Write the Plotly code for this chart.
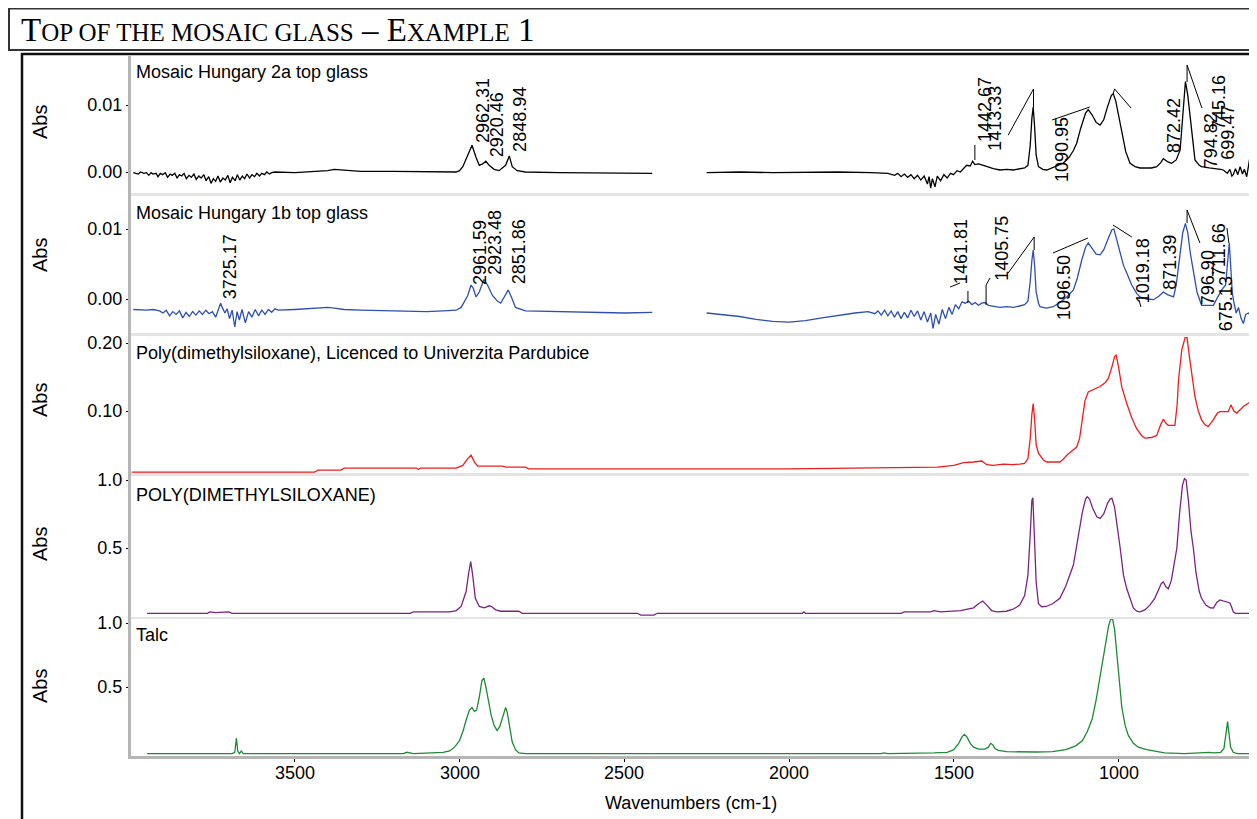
import plotly.graph_objects as go

# the page body adds an 8px margin, so the figure is drawn 8px smaller and all
# reference pixel positions are shifted by that offset
OFF = 8
W, H = 1257 - OFF, 819 - OFF
SANS = "Liberation Sans, Arial, sans-serif"
SERIF = "Liberation Serif, Times New Roman, serif"

# ----------------------------- data -----------------------------
x_range = [4000, 598]
x_ticks = [3500, 3000, 2500, 2000, 1500, 1000]

panel_titles = [
    "Mosaic Hungary 2a top glass",
    "Mosaic Hungary 1b top glass",
    "Poly(dimethylsiloxane), Licenced to Univerzita Pardubice",
    "POLY(DIMETHYLSILOXANE)",
    "Talc",
]

y_tickvals = [[0.0, 0.01], [0.0, 0.01], [0.10, 0.20], [0.5, 1.0], [0.5, 1.0]]
y_ticktext = [["0.00", "0.01"], ["0.00", "0.01"], ["0.10", "0.20"], ["0.5", "1.0"], ["0.5", "1.0"]]

# (wavenumber, absorbance); None marks the removed CO2 region
black_spectrum = [
    (3990, -0.0001), (3975, -0.0003), (3968, 0.0000), (3958, -0.0002), (3950, -0.0001), (3943, -0.0005),
    (3936, -0.0001), (3930, -0.0003), (3921, -0.0002), (3915, -0.0007), (3908, -0.0002), (3901, -0.0004),
    (3893, -0.0001), (3886, -0.0008), (3878, -0.0003), (3872, -0.0005), (3864, -0.0002), (3857, -0.0009),
    (3850, -0.0004), (3843, -0.0006), (3836, -0.0002), (3829, -0.0010), (3821, -0.0005), (3814, -0.0008),
    (3806, -0.0003), (3799, -0.0011), (3791, -0.0006), (3784, -0.0009), (3776, -0.0004), (3769, -0.0013),
    (3761, -0.0007), (3754, -0.0017), (3747, -0.0010), (3740, -0.0014), (3733, -0.0006), (3726, -0.0015),
    (3718, -0.0009), (3711, -0.0012), (3703, -0.0005), (3696, -0.0016), (3689, -0.0008), (3681, -0.0013),
    (3674, -0.0004), (3667, -0.0012), (3659, -0.0006), (3652, -0.0010), (3645, -0.0003), (3637, -0.0009),
    (3630, -0.0004), (3622, -0.0007), (3615, -0.0002), (3607, -0.0006), (3600, -0.0002), (3592, -0.0004),
    (3585, 0.0000), (3577, -0.0003), (3570, -0.0001), (3560, 0.0000),
    (3500, -0.0001), (3450, 0.0000), (3400, 0.0002), (3380, 0.0004), (3350, 0.0003),
    (3300, 0.0001), (3200, 0.0001), (3100, 0.0000), (3010, 0.0000), (3000, 0.0002), (2990, 0.0008),
    (2975, 0.0025), (2962, 0.0040), (2950, 0.0022), (2940, 0.0010), (2930, 0.0012), (2920, 0.0016),
    (2910, 0.0010), (2895, 0.0004), (2880, 0.0002), (2860, 0.0010), (2849, 0.0024), (2840, 0.0008),
    (2825, 0.0002), (2800, 0.0000), (2700, -0.0001), (2600, -0.0001), (2500, -0.0002), (2415, -0.0002),
    (2330, None),
    (2250, -0.0001), (2150, 0.0000), (2050, -0.0001), (1950, 0.0000), (1850, 0.0000), (1750, -0.0001),
    (1700, -0.0002), (1680, -0.0005), (1670, -0.0002), (1660, -0.0007), (1650, -0.0003), (1640, -0.0008),
    (1630, -0.0004), (1620, -0.0010), (1610, -0.0005), (1600, -0.0012), (1590, -0.0006), (1580, -0.0018),
    (1575, -0.0007), (1570, -0.0024), (1565, -0.0010), (1557, -0.0022), (1550, -0.0006), (1540, -0.0013),
    (1530, -0.0004), (1520, -0.0009), (1510, -0.0002), (1501, -0.0004), (1490, 0.0002), (1480, 0.0000),
    (1470, 0.0006), (1461, 0.0010), (1450, 0.0009), (1443, 0.0016), (1436, 0.0011), (1425, 0.0012),
    (1410, 0.0010), (1395, 0.0007), (1380, 0.0005), (1360, 0.0003), (1340, 0.0004), (1320, 0.0003),
    (1300, 0.0005), (1285, 0.0006), (1275, 0.0010), (1268, 0.0040), (1263, 0.0080), (1259, 0.0097),
    (1255, 0.0070), (1250, 0.0025), (1243, 0.0008), (1230, 0.0004), (1218, 0.0003), (1195, 0.0008),
    (1168, 0.0013), (1150, 0.0022), (1137, 0.0032), (1127, 0.0043), (1115, 0.0065), (1100, 0.0088),
    (1092, 0.0093), (1080, 0.0085), (1068, 0.0074), (1056, 0.0070), (1045, 0.0078), (1033, 0.0098),
    (1022, 0.0114), (1016, 0.0117), (1008, 0.0105), (1000, 0.0085), (990, 0.0058), (978, 0.0030),
    (965, 0.0013), (950, 0.0008), (935, 0.0006), (900, 0.0006), (884, 0.0008), (872, 0.0014),
    (864, 0.0020), (850, 0.0015), (839, 0.0013), (825, 0.0018), (813, 0.0033), (805, 0.0090),
    (797, 0.0135), (790, 0.0115), (783, 0.0083), (775, 0.0040), (768, 0.0018), (755, 0.0010),
    (748, 0.0008), (725, 0.0006), (702, 0.0005), (690, 0.0004), (682, 0.0003), (670, -0.0002),
    (662, 0.0004), (656, -0.0006), (652, -0.0004), (645, 0.0005), (638, -0.0004), (631, 0.0008),
    (624, -0.0003), (618, 0.0004), (611, -0.0007), (606, 0.0010), (601, 0.0023), (598, 0.0008),
]

blue_spectrum = [
    (3990, -0.0015), (3950, -0.0016), (3930, -0.0015), (3910, -0.0017), (3900, -0.0020), (3890, -0.0016),
    (3880, -0.0024), (3870, -0.0018), (3860, -0.0022), (3850, -0.0017), (3840, -0.0027), (3830, -0.0019),
    (3820, -0.0025), (3810, -0.0018), (3800, -0.0023), (3790, -0.0017), (3780, -0.0022), (3770, -0.0016),
    (3760, -0.0021), (3750, -0.0018), (3740, -0.0026), (3730, -0.0014), (3725, -0.0006), (3720, -0.0012),
    (3712, -0.0020), (3705, -0.0014), (3698, -0.0028), (3690, -0.0016), (3682, -0.0040), (3675, -0.0018),
    (3668, -0.0030), (3660, -0.0015), (3650, -0.0034), (3640, -0.0018), (3630, -0.0026), (3620, -0.0015),
    (3610, -0.0024), (3600, -0.0016), (3590, -0.0022), (3580, -0.0015), (3570, -0.0019), (3560, -0.0014),
    (3550, -0.0016), (3500, -0.0015), (3450, -0.0014), (3400, -0.0012), (3380, -0.0013), (3350, -0.0015),
    (3300, -0.0016), (3200, -0.0017), (3100, -0.0018), (3050, -0.0017), (3010, -0.0016), (2995, -0.0012),
    (2985, -0.0004), (2975, 0.0005), (2965, 0.0020), (2958, 0.0015), (2950, 0.0003), (2940, 0.0010),
    (2926, 0.0028), (2915, 0.0020), (2900, 0.0005), (2885, -0.0003), (2875, -0.0006), (2860, 0.0006),
    (2852, 0.0013), (2842, 0.0002), (2830, -0.0012), (2800, -0.0017), (2700, -0.0018), (2600, -0.0018),
    (2500, -0.0020), (2415, -0.0019),
    (2330, None),
    (2250, -0.0020), (2200, -0.0022), (2150, -0.0025), (2100, -0.0029), (2050, -0.0032), (2000, -0.0033),
    (1950, -0.0031), (1900, -0.0027), (1850, -0.0023), (1800, -0.0020), (1760, -0.0018), (1740, -0.0021),
    (1730, -0.0017), (1720, -0.0023), (1710, -0.0016), (1700, -0.0024), (1690, -0.0017), (1680, -0.0026),
    (1670, -0.0018), (1660, -0.0028), (1650, -0.0019), (1640, -0.0027), (1630, -0.0016), (1620, -0.0025),
    (1610, -0.0017), (1600, -0.0030), (1590, -0.0018), (1580, -0.0033), (1570, -0.0020), (1563, -0.0042),
    (1555, -0.0022), (1545, -0.0036), (1535, -0.0015), (1525, -0.0028), (1515, -0.0012), (1505, -0.0022),
    (1495, -0.0008), (1485, -0.0014), (1475, -0.0004), (1465, -0.0006), (1455, -0.0003), (1445, -0.0008),
    (1435, -0.0005), (1425, -0.0009), (1415, -0.0006), (1405, -0.0005), (1395, -0.0009), (1380, -0.0010),
    (1360, -0.0012), (1340, -0.0011), (1320, -0.0012), (1300, -0.0010), (1285, -0.0008), (1275, -0.0003),
    (1268, 0.0025), (1263, 0.0055), (1259, 0.0070), (1255, 0.0050), (1250, 0.0010), (1243, -0.0006),
    (1238, -0.0011), (1220, -0.0013), (1198, -0.0011), (1175, -0.0004), (1155, 0.0004), (1137, 0.0013),
    (1125, 0.0030), (1112, 0.0055), (1100, 0.0074), (1092, 0.0080), (1080, 0.0072), (1068, 0.0064),
    (1056, 0.0063), (1045, 0.0070), (1030, 0.0088), (1020, 0.0099), (1014, 0.0100), (1005, 0.0085),
    (995, 0.0065), (985, 0.0048), (975, 0.0037), (960, 0.0020), (945, 0.0008), (935, 0.0003),
    (915, 0.0000), (894, -0.0001), (878, 0.0004), (864, 0.0010), (850, 0.0006), (833, 0.0003),
    (825, 0.0020), (815, 0.0060), (805, 0.0095), (797, 0.0108), (790, 0.0095), (782, 0.0065),
    (773, 0.0037), (762, 0.0010), (748, -0.0009), (712, -0.0009), (700, 0.0002), (687, 0.0013),
    (675, 0.0020), (668, 0.0065), (664, 0.0080), (660, 0.0050), (655, 0.0010), (650, -0.0005),
    (643, -0.0020), (636, -0.0012), (628, -0.0028), (621, -0.0035), (614, -0.0022), (606, -0.0020),
    (598, -0.0024),
]

red_spectrum = [
    (3995, 0.0100), (3700, 0.0100), (3440, 0.0100), (3430, 0.0130), (3360, 0.0130), (3350, 0.0160),
    (3130, 0.0160), (3125, 0.0140), (3118, 0.0160), (3010, 0.0160), (2990, 0.0200), (2975, 0.0300),
    (2965, 0.0350), (2955, 0.0250), (2945, 0.0190), (2870, 0.0190), (2860, 0.0175), (2800, 0.0175),
    (2790, 0.0150), (2000, 0.0150), (1700, 0.0160), (1600, 0.0170), (1550, 0.0175), (1500, 0.0200),
    (1470, 0.0240), (1440, 0.0250), (1415, 0.0265), (1400, 0.0210), (1380, 0.0200), (1350, 0.0220),
    (1320, 0.0210), (1300, 0.0220), (1285, 0.0230), (1275, 0.0300), (1268, 0.0600), (1263, 0.0950),
    (1259, 0.1110), (1255, 0.0900), (1250, 0.0500), (1243, 0.0380), (1238, 0.0350), (1228, 0.0280),
    (1218, 0.0250), (1178, 0.0250), (1168, 0.0290), (1157, 0.0350), (1140, 0.0420), (1127, 0.0470),
    (1118, 0.0600), (1110, 0.0900), (1102, 0.1150), (1092, 0.1280), (1075, 0.1320), (1056, 0.1360),
    (1040, 0.1420), (1031, 0.1480), (1020, 0.1650), (1012, 0.1800), (1007, 0.1820), (1000, 0.1650),
    (990, 0.1350), (980, 0.1180), (975, 0.1110), (960, 0.0900), (945, 0.0740), (930, 0.0640),
    (920, 0.0600), (900, 0.0610), (884, 0.0640), (872, 0.0800), (864, 0.0880), (856, 0.0820),
    (849, 0.0790), (829, 0.0790), (822, 0.1100), (818, 0.1460), (808, 0.1900), (798, 0.2080),
    (792, 0.2080), (785, 0.1800), (775, 0.1400), (768, 0.1210), (758, 0.1000), (748, 0.0870),
    (738, 0.0800), (728, 0.0770), (715, 0.0850), (700, 0.0970), (692, 0.0990), (667, 0.0990),
    (659, 0.1090), (650, 0.1000), (641, 0.0970), (620, 0.1070), (598, 0.1140),
]

purple_spectrum = [
    (3948, 0.020), (3765, 0.020), (3758, 0.030), (3740, 0.025), (3700, 0.030), (3690, 0.020),
    (3150, 0.020), (3140, 0.030), (3030, 0.030), (3010, 0.040), (2995, 0.070), (2980, 0.180),
    (2972, 0.320), (2966, 0.400), (2960, 0.300), (2952, 0.130), (2940, 0.070), (2925, 0.060),
    (2910, 0.075), (2903, 0.070), (2890, 0.045), (2875, 0.035), (2820, 0.035), (2810, 0.020),
    (2460, 0.020), (2450, 0.007), (2410, 0.007), (2400, 0.020), (1960, 0.020), (1955, 0.030),
    (1950, 0.020), (1660, 0.020), (1650, 0.030), (1570, 0.030), (1560, 0.040), (1540, 0.030),
    (1480, 0.040), (1460, 0.050), (1440, 0.060), (1425, 0.090), (1412, 0.110), (1400, 0.080),
    (1385, 0.040), (1370, 0.030), (1340, 0.035), (1320, 0.050), (1300, 0.080), (1285, 0.150),
    (1275, 0.300), (1268, 0.600), (1263, 0.850), (1260, 0.870), (1256, 0.650), (1250, 0.250),
    (1243, 0.090), (1233, 0.068), (1220, 0.070), (1200, 0.090), (1178, 0.130), (1160, 0.220),
    (1137, 0.375), (1125, 0.550), (1110, 0.760), (1100, 0.860), (1095, 0.877), (1088, 0.860),
    (1078, 0.790), (1066, 0.730), (1056, 0.718), (1045, 0.750), (1033, 0.830), (1025, 0.862),
    (1020, 0.865), (1012, 0.800), (1003, 0.650), (995, 0.500), (985, 0.300), (975, 0.200),
    (965, 0.130), (955, 0.060), (945, 0.035), (935, 0.030), (920, 0.045), (905, 0.080),
    (890, 0.130), (877, 0.200), (870, 0.240), (864, 0.250), (856, 0.215), (849, 0.200),
    (840, 0.260), (830, 0.400), (823, 0.500), (815, 0.750), (806, 0.960), (800, 1.010),
    (795, 1.000), (788, 0.850), (780, 0.620), (773, 0.500), (765, 0.320), (755, 0.180),
    (748, 0.130), (735, 0.080), (722, 0.060), (712, 0.059), (702, 0.100), (692, 0.118),
    (680, 0.110), (670, 0.100), (662, 0.096), (656, 0.060), (652, 0.030), (645, 0.020),
    (598, 0.020),
]

green_spectrum = [
    (3948, -0.02), (3690, -0.02), (3682, -0.01), (3677, 0.10), (3673, 0.00), (3668, -0.02),
    (3662, 0.00), (3656, -0.02), (3170, -0.02), (3160, -0.01), (3140, -0.02), (3080, -0.015),
    (3050, -0.01), (3030, 0.00), (3015, 0.03), (3000, 0.08), (2990, 0.15), (2980, 0.24),
    (2970, 0.32), (2962, 0.34), (2955, 0.31), (2948, 0.32), (2940, 0.42), (2932, 0.55),
    (2926, 0.57), (2920, 0.50), (2912, 0.38), (2904, 0.28), (2895, 0.20), (2886, 0.16),
    (2878, 0.19), (2872, 0.24), (2866, 0.30), (2860, 0.34), (2855, 0.30), (2848, 0.18),
    (2840, 0.07), (2830, 0.01), (2820, -0.015), (2800, -0.02), (2480, -0.02), (2470, -0.025),
    (2455, -0.02), (1720, -0.02), (1712, -0.015), (1700, -0.02), (1560, -0.015), (1520, -0.01),
    (1500, 0.01), (1485, 0.06), (1475, 0.11), (1468, 0.13), (1460, 0.11), (1450, 0.06),
    (1440, 0.03), (1425, 0.015), (1405, 0.015), (1395, 0.03), (1388, 0.06), (1382, 0.05),
    (1375, 0.02), (1365, 0.005), (1340, -0.005), (1300, -0.008), (1250, -0.008), (1200, -0.005),
    (1160, 0.01), (1130, 0.04), (1110, 0.08), (1095, 0.15), (1080, 0.25), (1068, 0.40),
    (1058, 0.55), (1048, 0.72), (1038, 0.88), (1030, 0.98), (1024, 1.03), (1018, 1.03),
    (1012, 0.95), (1005, 0.75), (998, 0.52), (990, 0.34), (980, 0.20), (970, 0.12),
    (955, 0.06), (940, 0.03), (915, 0.01), (890, 0.00), (860, -0.015), (800, -0.02),
    (760, -0.015), (740, -0.01), (725, -0.01), (710, -0.015), (690, -0.01), (680, 0.02),
    (674, 0.12), (669, 0.23), (665, 0.14), (660, 0.03), (652, -0.01), (640, -0.02),
    (598, -0.02),
]

spectra = [black_spectrum, blue_spectrum, red_spectrum, purple_spectrum, green_spectrum]

# peak labels: (text, label-centre wavenumber, label-centre absorbance)
peak_labels_2a = [
    ("2962.31", 2929, 0.00925), ("2920.46", 2886, 0.0070), ("2848.94", 2816, 0.0078),
    ("1442.67", 1405, 0.00925), ("1413.33", 1375, 0.0081), ("1090.95", 1171, 0.0033),
    ("872.42", 832, 0.0070), ("794.82", 719, 0.0046), ("745.16", 695, 0.0103),
    ("699.47", 668, 0.0060),
]
peak_labels_1b = [
    ("3725.17", 3696, 0.00457), ("2961.59", 2938, 0.0067), ("2923.48", 2892, 0.0080),
    ("2851.86", 2819, 0.0067), ("1461.81", 1478, 0.0067), ("1405.75", 1354, 0.0073),
    ("1096.50", 1165, 0.0016), ("1019.18", 926, 0.0041), ("871.39", 844, 0.0053),
    ("796.90", 728, 0.0030), ("711.66", 695, 0.0070), ("675.13", 674, -0.0006),
]
# leader lines of the peak labels (wavenumber, absorbance)
leaders_2a = [
    [(1335, 0.0055), (1258, 0.01239), (1258, 0.0097)],
    [(1202, 0.00776), (1087, 0.0097)],
    [(1016, 0.0117), (1012, 0.0124), (962, 0.00955)],
    [(747, 0.00955), (792, 0.01597), (792, 0.01343)],
    [(1436, 0.00403), (1436, 0.00179)],
]
leaders_1b = [
    [(1511, 0.00171), (1481, 0.00229)],
    [(1457, 0.00114), (1457, -0.00057)],
    [(1390, 0.0030), (1402, 0.0020), (1402, -0.00086)],
    [(1335, 0.00371), (1256, 0.00886), (1256, 0.0070)],
    [(1199, 0.00657), (1093, 0.00871)],
    [(1017, 0.01057), (960, 0.00886)],
    [(938, -0.00014), (932, -0.00114)],
    [(753, 0.0080), (792, 0.01271), (792, 0.01086)],
    [(671, 0.01014), (665, 0.0080)],
]

# ----------------------------- style / layout -----------------------------
colors = ["#000000", "#2f4fb0", "#f01c1c", "#7a2480", "#1f8a35"]
panel_px = [(56, 193), (196, 333), (336, 473), (476, 617), (619, 757)]
y_ranges = [[-0.003134, 0.017313], [-0.004857, 0.014714], [0.008824, 0.210294],
            [-0.00735, 1.02941], [-0.0469, 1.03125]]
abs_label_py = [122, 255, 400, 544, 686]
title_py = [72, 213, 353, 495, 635]
PLOT_L, PLOT_R = 130, 1251


def fx(px):
    return (px - OFF) / W


def fy(py):
    return 1 - (py - OFF) / H


fig = go.Figure()
axis_names = ["y", "y2", "y3", "y4", "y5"]
for i, spec in enumerate(spectra):
    xs = [p[0] for p in spec]
    ys = [p[1] for p in spec]
    fig.add_trace(go.Scatter(x=xs, y=ys, mode="lines", xaxis="x", yaxis=axis_names[i],
                             line=dict(color=colors[i], width=1.3), connectgaps=False,
                             hoverinfo="skip", showlegend=False))

layout = dict(
    template="none",
    width=W, height=H, margin=dict(l=0, r=0, t=0, b=0, pad=0),
    paper_bgcolor="white", plot_bgcolor="white", showlegend=False,
    xaxis=dict(domain=[fx(PLOT_L), fx(PLOT_R)], range=x_range, anchor="y5",
               tickvals=x_ticks, showticklabels=False,
               ticks="outside", ticklen=4, tickcolor="black",
               showgrid=False, zeroline=False, showline=False, automargin=False),
)
for i in range(5):
    key = "yaxis" if i == 0 else f"yaxis{i+1}"
    top, bot = panel_px[i]
    layout[key] = dict(domain=[fy(bot), fy(top)], range=y_ranges[i], anchor="x",
                       tickvals=y_tickvals[i], ticktext=y_ticktext[i],
                       ticks="outside", ticklen=3, tickcolor="black",
                       tickfont=dict(family=SANS, size=18, color="black"),
                       showgrid=False, zeroline=False, showline=False, automargin=False)
fig.update_layout(**layout)

shapes = []
# panel separators
for (t1, b1), (t2, b2) in zip(panel_px[:-1], panel_px[1:]):
    shapes.append(dict(type="rect", xref="paper", yref="paper", x0=fx(PLOT_L), x1=fx(PLOT_R),
                       y0=fy(t2), y1=fy(b1), fillcolor="#e4e4e4", line=dict(width=0), layer="below"))
# gray axes
shapes.append(dict(type="rect", xref="paper", yref="paper", x0=fx(128), x1=fx(131), y0=fy(759), y1=fy(56),
                   fillcolor="#b5b5b5", line=dict(width=0)))
shapes.append(dict(type="rect", xref="paper", yref="paper", x0=fx(128), x1=fx(PLOT_R), y0=fy(759), y1=fy(756),
                   fillcolor="#b5b5b5", line=dict(width=0)))
# outer frames
shapes.append(dict(type="rect", xref="paper", yref="paper", x0=fx(9), x1=fx(1262), y0=fy(50), y1=fy(8.5),
                   line=dict(color="#333333", width=2)))
shapes.append(dict(type="rect", xref="paper", yref="paper", x0=fx(22), x1=fx(1252), y0=fy(830), y1=fy(54),
                   line=dict(color="#111111", width=2.5)))
# leader lines
for refname, leaders in (("y", leaders_2a), ("y2", leaders_1b)):
    for pts in leaders:
        path = "M " + " L ".join(f"{x},{y}" for x, y in pts)
        shapes.append(dict(type="path", xref="x", yref=refname, path=path,
                           line=dict(color="black", width=1)))
fig.update_layout(shapes=shapes)

ann = []
# chart title, small caps
ann.append(dict(xref="paper", yref="paper", x=fx(19), y=fy(30), xanchor="left", yanchor="middle",
                showarrow=False,
                text=("T<span style='font-size:25px'>OP OF THE MOSAIC GLASS</span> \u2013 "
                      "E<span style='font-size:25px'>XAMPLE</span> 1"),
                font=dict(family=SERIF, size=33, color="black")))
for i in range(5):
    ann.append(dict(xref="paper", yref="paper", x=fx(40), y=fy(abs_label_py[i]), textangle=-90,
                    xanchor="center", yanchor="middle",
                    showarrow=False, text="Abs", font=dict(family=SANS, size=20, color="black")))
    ann.append(dict(xref="paper", yref="paper", x=fx(134), y=fy(title_py[i]), xanchor="left",
                    yanchor="middle", showarrow=False, text=panel_titles[i],
                    font=dict(family=SANS, size=18, color="black")))
for refname, labels in (("y", peak_labels_2a), ("y2", peak_labels_1b)):
    for txt, x, y in labels:
        ann.append(dict(xref="x", yref=refname, x=x, y=y, textangle=-90, showarrow=False,
                        xanchor="center", yanchor="middle",
                        text=txt, font=dict(family=SANS, size=18, color="black")))
# x tick labels
for t in x_ticks:
    ann.append(dict(xref="x", yref="paper", x=t, y=fy(773), xanchor="center", yanchor="middle",
                    showarrow=False, text=str(t), font=dict(family=SANS, size=18, color="black")))
ann.append(dict(xref="paper", yref="paper", x=fx((PLOT_L + PLOT_R) / 2), y=fy(803),
                xanchor="center", yanchor="middle", showarrow=False,
                text="Wavenumbers (cm-1)", font=dict(family=SANS, size=18, color="black")))
fig.update_layout(annotations=ann)

fig.write_html("out.html")
